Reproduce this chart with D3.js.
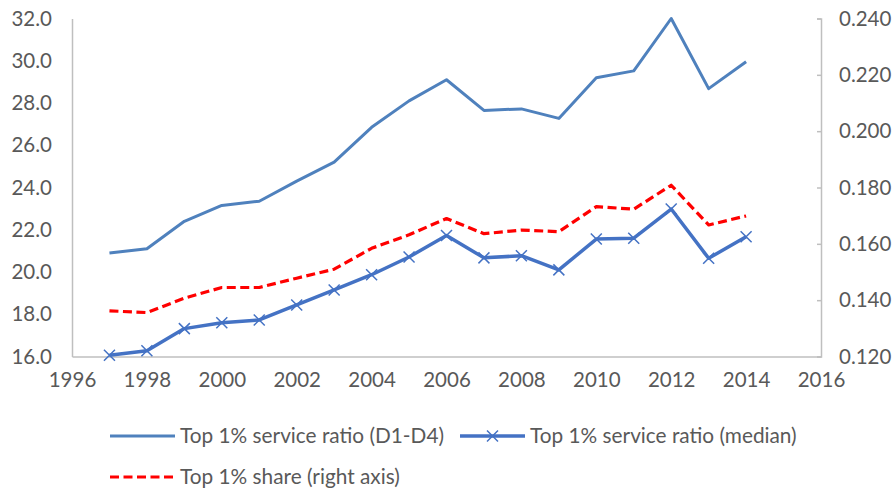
<!DOCTYPE html>
<html>
<head>
<meta charset="utf-8">
<script src="https://cdn.jsdelivr.net/npm/d3@7"></script>
<style>
  html, body { margin: 0; padding: 0; background: #fff; }
  svg { display: block; font-family: Lato, "Open Sans", sans-serif; }
</style>
</head>
<body>
<svg id="chart" width="895" height="492"></svg>
<script>
// Years covered by the three series
const years = [1997, 1998, 1999, 2000, 2001, 2002, 2003, 2004, 2005, 2006,
               2007, 2008, 2009, 2010, 2011, 2012, 2013, 2014];

// Top 1% service ratio relative to deciles D1-D4 (left axis)
const ratioD1D4 = [20.9, 21.1, 22.4, 23.15, 23.35, 24.3, 25.2, 26.85, 28.1, 29.1,
                   27.65, 27.72, 27.27, 29.2, 29.52, 32.0, 28.68, 29.95];

// Top 1% service ratio relative to the median (left axis)
const ratioMedian = [16.06, 16.27, 17.32, 17.6, 17.73, 18.44, 19.15, 19.87, 20.71, 21.73,
                     20.67, 20.77, 20.1, 21.56, 21.6, 22.98, 20.65, 21.67];

// Top 1% income share (right axis)
const topShare = [0.1362, 0.1356, 0.1407, 0.1445, 0.1445, 0.1478, 0.1510, 0.1584, 0.1632, 0.1690,
                  0.1636, 0.1649, 0.1643, 0.1732, 0.1723, 0.1808, 0.1667, 0.1699];

const xTicks = [1996, 1998, 2000, 2002, 2004, 2006, 2008, 2010, 2012, 2014, 2016];
const leftTicks = [16, 18, 20, 22, 24, 26, 28, 30, 32];
const rightTicks = [0.12, 0.14, 0.16, 0.18, 0.20, 0.22, 0.24];

const seriesNames = ["Top 1% service ratio (D1-D4)", "Top 1% service ratio (median)", "Top 1% share (right axis)"];

const svg = d3.select("#chart");
const plot = { left: 72, right: 821, top: 18.5, bottom: 356.5 };

const x = d3.scaleLinear().domain([1996, 2016]).range([plot.left, plot.right]);
const yL = d3.scaleLinear().domain([16, 32]).range([plot.bottom, plot.top]);
const yR = d3.scaleLinear().domain([0.12, 0.24]).range([plot.bottom, plot.top]);

const axisGrey = "#bfbfbf";
const textGrey = "#595959";
const tickFont = "20.5px";
const legendFont = "20.8px";

const cLight = "#4f81bd";
const cDark = "#4472c4";
const cRed = "#ff0000";

// Left axis
const gL = svg.append("g").attr("transform", `translate(${plot.left},0)`)
  .call(d3.axisLeft(yL).tickValues(leftTicks).tickFormat(d3.format(".1f")).tickSize(0).tickPadding(20));
// Right axis, ticks pointing inward
const gR = svg.append("g").attr("transform", `translate(${plot.right},0)`)
  .call(d3.axisRight(yR).tickValues(rightTicks).tickFormat(d3.format(".3f")).tickSizeInner(-4).tickSizeOuter(-4).tickPadding(18));
// Bottom axis
const gB = svg.append("g").attr("transform", `translate(0,${plot.bottom})`)
  .call(d3.axisBottom(x).tickValues(xTicks).tickFormat(d3.format("d")).tickSize(0).tickPadding(16));

[gL, gR, gB].forEach(g => {
  g.select(".domain").attr("stroke", axisGrey).attr("stroke-width", 1.5);
  g.selectAll(".tick line").attr("stroke", axisGrey).attr("stroke-width", 1.5);
  g.selectAll(".tick text").attr("fill", textGrey).style("font-size", tickFont)
    .style("font-family", "Lato, 'Open Sans', sans-serif");
});

// Lines
const lineL = d3.line().x((d, i) => x(years[i])).y(d => yL(d));
const lineR = d3.line().x((d, i) => x(years[i])).y(d => yR(d));

svg.append("path").datum(ratioD1D4).attr("d", lineL)
  .attr("fill", "none").attr("stroke", cLight).attr("stroke-width", 3).attr("stroke-linejoin", "round");

svg.append("path").datum(topShare).attr("d", lineR)
  .attr("fill", "none").attr("stroke", cRed).attr("stroke-width", 3.2)
  .attr("stroke-dasharray", "9,4.5").attr("stroke-linejoin", "round");

svg.append("path").datum(ratioMedian).attr("d", lineL)
  .attr("fill", "none").attr("stroke", cDark).attr("stroke-width", 3.5).attr("stroke-linejoin", "round");

// X markers on the median series
const xMark = (g, cx, cy) => {
  const s = 5.5;
  g.append("path")
    .attr("d", `M${cx - s},${cy - s}L${cx + s},${cy + s}M${cx - s},${cy + s}L${cx + s},${cy - s}`)
    .attr("stroke", cDark).attr("stroke-width", 1.5).attr("fill", "none");
};
const markG = svg.append("g");
ratioMedian.forEach((v, i) => xMark(markG, x(years[i]), yL(v)));

// Legend
const leg = svg.append("g");
const legText = (tx, ty, t) => leg.append("text").attr("x", tx).attr("y", ty)
  .attr("dy", "0.35em").attr("fill", textGrey).style("font-size", legendFont).text(t);

const row1 = 436, row2 = 477;
leg.append("line").attr("x1", 110).attr("x2", 175).attr("y1", row1).attr("y2", row1)
  .attr("stroke", cLight).attr("stroke-width", 3);
legText(180, row1, seriesNames[0]);

leg.append("line").attr("x1", 460).attr("x2", 525).attr("y1", row1).attr("y2", row1)
  .attr("stroke", cDark).attr("stroke-width", 3.5);
xMark(leg, 492.5, row1);
legText(530, row1, seriesNames[1]);

leg.append("line").attr("x1", 110).attr("x2", 175).attr("y1", row2).attr("y2", row2)
  .attr("stroke", cRed).attr("stroke-width", 3.2).attr("stroke-dasharray", "9,4.5");
legText(180, row2, seriesNames[2]);
</script>
</body>
</html>
